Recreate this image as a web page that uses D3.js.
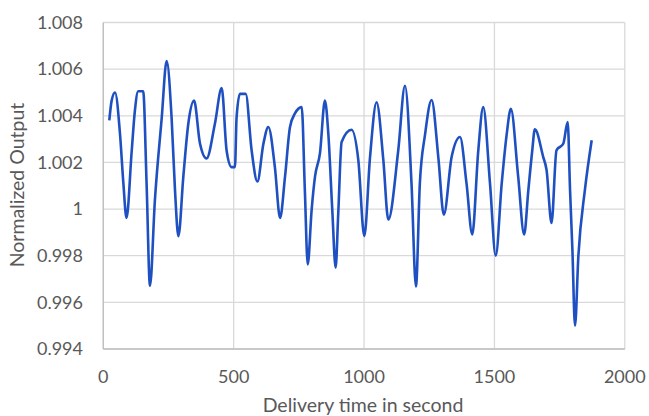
<!DOCTYPE html>
<html><head><meta charset="utf-8">
<script src="https://cdn.jsdelivr.net/npm/d3@7"></script>
<style>html,body{margin:0;padding:0;background:#fff;}svg{display:block;}</style>
</head><body><div id="chart"></div>
<script>
const timeSec = [23,32,45,64,77,89,109,121,134,153,166,179,198,224,243,262,275,288,307,326,348,371,396,428,454,473,492,505,511,524,546,569,591,614,633,658,678,697,716,735,761,773,784,799,812,831,850,863,878,891,901,914,952,978,1001,1023,1048,1074,1093,1131,1157,1182,1199,1214,1234,1259,1285,1306,1336,1368,1393,1415,1438,1457,1483,1505,1528,1547,1563,1591,1614,1630,1645,1655,1687,1700,1719,1738,1764,1781,1790,1799,1809,1822,1847,1873];
const output = [1.0038,1.00465,1.0050,1.00323,1.0011,0.99962,1.0025,1.0042,1.00505,1.00505,1.0011,0.99671,1.0004,1.0039,1.00635,1.0039,1.0008,0.99884,1.0014,1.00366,1.00465,1.0028,1.00217,1.00366,1.00519,1.0025,1.0018,1.0018,1.0039,1.00494,1.00494,1.0025,1.00118,1.0028,1.00352,1.0018,0.99962,1.0014,1.00352,1.0041,1.00437,1.0008,0.99763,0.99997,1.0014,1.0024,1.00465,1.00323,1.0000,0.99749,0.9998,1.00288,1.0034,1.0021,0.99884,1.00224,1.00458,1.0021,0.99955,1.0025,1.00529,1.0011,0.99668,1.0011,1.0032,1.00468,1.0022,0.99976,1.00224,1.00309,1.0011,0.99891,1.0025,1.00437,1.0011,0.998,1.0011,1.0032,1.0043,1.0014,0.99891,1.0008,1.0025,1.00342,1.00224,1.00167,0.9994,1.00252,1.0028,1.00373,1.00082,0.99827,0.995,0.998,1.00082,1.00295];
const xTicks = [0,500,1000,1500,2000];
const yTicks = [0.994,0.996,0.998,1,1.002,1.004,1.006,1.008];
const yTickLabels = ["0.994","0.996","0.998","1","1.002","1.004","1.006","1.008"];
const xTitle = "Delivery time in second";
const yTitle = "Normalized Output";

const W = 649, H = 416;
const m = {left:103.3, right:W-624.8, top:22.5, bottom:H-349};
const svg = d3.select("#chart").append("svg").attr("width",W).attr("height",H);
const x = d3.scaleLinear().domain([0,2000]).range([m.left, W-m.right]);
const y = d3.scaleLinear().domain([0.994,1.008]).range([H-m.bottom, m.top]);
const font = "Lato, 'Open Sans', sans-serif";
const grid = "#d9d9d9";

// horizontal gridlines
svg.append("g").selectAll("line").data(yTicks).join("line")
  .attr("x1", x(0)).attr("x2", x(2000))
  .attr("y1", d=>y(d)).attr("y2", d=>y(d))
  .attr("stroke", grid).attr("stroke-width",1.3);
// vertical gridlines
svg.append("g").selectAll("line").data(xTicks).join("line")
  .attr("x1", d=>x(d)).attr("x2", d=>x(d))
  .attr("y1", y(0.994)).attr("y2", y(1.008))
  .attr("stroke", grid).attr("stroke-width",1.3);
// axis lines
svg.append("line").attr("x1",x(0)).attr("x2",x(0)).attr("y1",y(0.994)).attr("y2",y(1.008)).attr("stroke","#bfbfbf").attr("stroke-width",1.3);
svg.append("line").attr("x1",x(0)).attr("x2",x(2000)).attr("y1",y(0.994)).attr("y2",y(0.994)).attr("stroke","#bfbfbf").attr("stroke-width",1.3);

// y tick labels
svg.append("g").selectAll("text").data(yTicks).join("text")
  .attr("x", 83).attr("y", d=>y(d)).attr("dy","0.35em")
  .attr("text-anchor","end").attr("font-family",font).attr("font-size",18).attr("fill","#595959")
  .text((d,i)=>yTickLabels[i]);
// x tick labels
svg.append("g").selectAll("text").data(xTicks).join("text")
  .attr("x", d=>x(d)).attr("y", 383)
  .attr("text-anchor","middle").attr("font-family",font).attr("font-size",18).attr("fill","#595959")
  .text(d=>d);
// titles
svg.append("text").attr("x", 363).attr("y", 412).attr("text-anchor","middle")
  .attr("font-family",font).attr("font-size",19.5).attr("fill","#595959").text(xTitle);
svg.append("text").attr("transform","translate(24,185) rotate(-90)").attr("text-anchor","middle")
  .attr("font-family",font).attr("font-size",19.5).attr("fill","#595959").text(yTitle);

// line
const pts = timeSec.map((t,i)=>[t, output[i]]);
svg.append("path").datum(pts)
  .attr("fill","none").attr("stroke","#1f50c2").attr("stroke-width",2.6)
  .attr("stroke-linejoin","round")
  .attr("d", d3.line().x(d=>x(d[0])).y(d=>y(d[1])).curve(d3.curveMonotoneX));
</script></body></html>
